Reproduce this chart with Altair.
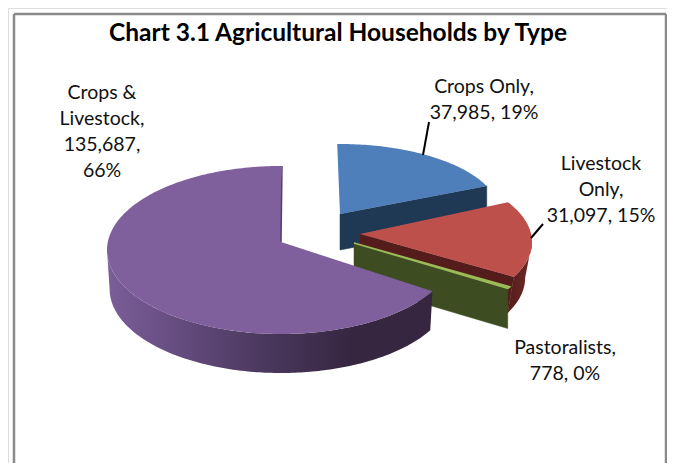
import math
import altair as alt

categories = ["Crops Only", "Livestock Only", "Pastoralists", "Crops & Livestock"]
values = [37985, 31097, 778, 135687]

title_text = "Chart 3.1 Agricultural Households by Type"
label_texts = ["Crops Only,\n37,985, 19%", "Livestock\nOnly,\n31,097, 15%",
               "Pastoralists,\n778, 0%", "Crops &\nLivestock,\n135,687,\n66%"]

OFF = 8  # page margin
FONT = "Lato"

# geometry of each exploded slice, in page pixels: apex, ellipse centre, radii, depth,
# k = narrowing of the lower rim, a = perspective correction of the start and end angle
GEOM = {
    "Crops Only": dict(apex=(340, 214), c=(340, 214), rx=160, ry=70, d=36, k=1.0, a=(-1, 0)),
    "Livestock Only": dict(apex=(360, 234), c=(360, 242), rx=172, ry=78, d=36, k=0.96, a=(-7.2, -4.4)),
    "Pastoralists": dict(apex=(354, 243), c=(354, 243), rx=182, ry=85, d=40, k=1.0, a=(0, 0)),
    "Crops & Livestock": dict(apex=(281, 242), c=(281, 250), rx=174, ry=84, d=39, k=0.985, a=(-2.9, 0)),
}
FACE = {"Crops Only": "#4F7FBB", "Livestock Only": "#BE504C", "Pastoralists": "#9BBB59", "Crops & Livestock": "#7F5F9C"}
WALL = {"Crops Only": "#1F3854", "Livestock Only": "#541D1B", "Pastoralists": "#3E4C22", "Crops & Livestock": "#372640"}

total = sum(values)
angles = {}
cum = 0.0
for name, v in zip(categories, values):
    a0, a1 = GEOM[name]["a"]
    angles[name] = (cum / total * 360 + a0, (cum + v) / total * 360 + a1)
    cum += v


def rim(g, t0, t1, lower=False):
    n = max(2, int(abs(t1 - t0)) + 1)
    rx = g["rx"] * (g["k"] if lower else 1)
    dy = g["d"] if lower else 0
    pts = []
    for i in range(n + 1):
        t = math.radians(t0 + (t1 - t0) * i / n)
        pts.append((g["c"][0] + rx * math.sin(t), g["c"][1] + dy - g["ry"] * math.cos(t)))
    return pts


def poly(pts):
    ring = [list(p) for p in pts]
    ring.append(ring[0])
    return {"type": "Feature", "properties": {}, "geometry": {"type": "Polygon", "coordinates": [ring]}}


def line(pts):
    return {"type": "Feature", "properties": {},
            "geometry": {"type": "LineString", "coordinates": [list(p) for p in pts]}}


def shape(feature, **style):
    return alt.Chart(alt.Data(values=[feature])).mark_geoshape(**style).project(
        type="identity", scale=1, translate=[-OFF, -OFF])


def cut_wall(name):
    g = GEOM[name]
    t1 = angles[name][1]
    edge = [g["apex"], rim(g, t1, t1)[0]]
    low = [rim(g, t1, t1, lower=True)[0], (g["apex"][0], g["apex"][1] + g["d"])]
    return shape(poly(edge + low), fill=WALL[name], stroke=WALL[name], strokeWidth=0.5)


def face(name, **style):
    g = GEOM[name]
    t0, t1 = angles[name]
    return shape(poly([g["apex"]] + rim(g, t0, t1)), fill=FACE[name], **style)


def rim_wall(name, t0, t1, fill):
    g = GEOM[name]
    return shape(poly(rim(g, t0, t1) + rim(g, t0, t1, lower=True)[::-1]), fill=fill, strokeWidth=0)


def grad(stops):
    return alt.LinearGradient(gradient="linear", x1=0, x2=1, y1=0, y2=0,
                              stops=[alt.GradientStop(color=c, offset=o) for o, c in stops])


blue, red, green, purple = categories

layers = [
    cut_wall(blue),
    face(blue),
    rim_wall(red, 90, angles[red][1], grad([(0, "#541D1B"), (1, "#6E2A27")])),
    cut_wall(red),
    face(red),
    cut_wall(green),
    face(green, stroke=FACE[green], strokeWidth=1.5),
    rim_wall(purple, angles[purple][0], 270,
             grad([(0, "#7A5E98"), (0.15, "#6C5288"), (0.45, "#4E3A62"), (0.75, "#362640"), (1, "#372640")])),
    face(purple),
    shape(line([GEOM[purple]["apex"], (GEOM[purple]["c"][0] + 1, GEOM[purple]["c"][1] - GEOM[purple]["ry"])]),
          stroke="#52406A", strokeWidth=1.5, filled=False),
]

# leader lines
for (x1, y1, x2, y2) in [(429, 122, 423, 155), (543, 224, 531, 238)]:
    layers.append(alt.Chart(alt.Data(values=[{"n": 0}])).mark_rule(color="#000000", strokeWidth=2).encode(
        x=alt.value(x1 - OFF), x2=alt.value(x2 - OFF), y=alt.value(y1 - OFF), y2=alt.value(y2 - OFF)))

# frame, open at the bottom
for (x1, y1, x2, y2) in [(14, 14, 14, 480), (666, 14, 666, 480), (14, 14, 666, 14)]:
    layers.append(alt.Chart(alt.Data(values=[{"n": 0}])).mark_rule(color="#8A8A8A", strokeWidth=2.5).encode(
        x=alt.value(x1 - OFF), x2=alt.value(x2 - OFF), y=alt.value(y1 - OFF), y2=alt.value(y2 - OFF)))

# labels: y of the first line
label_pos = [(484, 87), (601, 164), (565, 348), (102, 93)]
for text, (x, y) in zip(label_texts, label_pos):
    layers.append(alt.Chart(alt.Data(values=[{"t": text}])).mark_text(
        font=FONT, fontSize=19.5, color="#111111", lineBreak="\n", lineHeight=26, align="center", baseline="middle"
    ).encode(text="t:N", x=alt.value(x - OFF), y=alt.value(y - OFF)))

layers.append(alt.Chart(alt.Data(values=[{"t": title_text}])).mark_text(
    font=FONT, fontSize=24.5, fontWeight="bold", color="#000000", align="center", baseline="middle"
).encode(text="t:N", x=alt.value(338 - OFF), y=alt.value(34 - OFF)))

chart = alt.layer(*layers).properties(
    width=659, height=455, padding=0, autosize=alt.AutoSizeParams(type="none")
).configure_view(stroke=None).configure(background="white")

chart.save("out.html", embed_options={"renderer": "svg", "actions": False})
